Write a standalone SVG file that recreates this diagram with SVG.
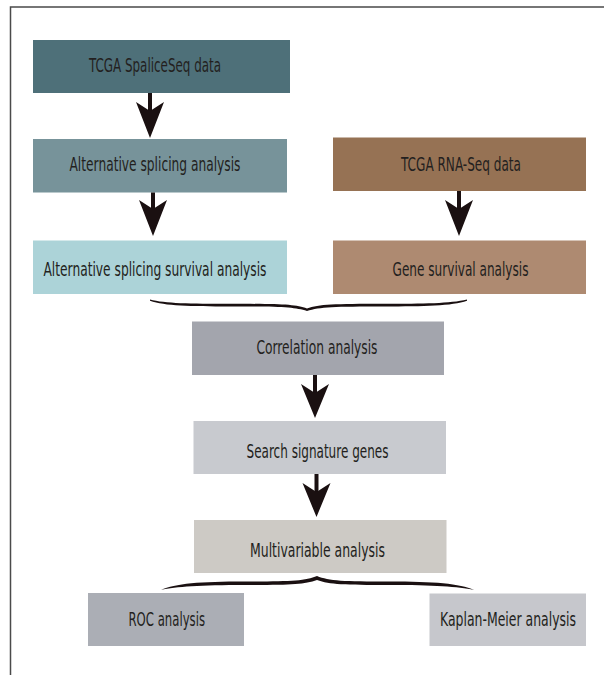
<svg xmlns="http://www.w3.org/2000/svg" width="604" height="675" viewBox="0 0 604 675">
<style>
  .lbl { font-family: "DejaVu Sans Condensed", "DejaVu Sans", "Liberation Sans", sans-serif; font-size: 19px; fill: #231f20; }
  .arrow { fill: #1a1011; }
  .shaft { stroke: #1a1011; stroke-width: 4; }
  .frame { stroke: #4a4a4a; stroke-width: 1.5; fill: none; }
</style>
<rect x="0" y="0" width="604" height="675" fill="#ffffff"/>
<path class="frame" d="M10.5,675 L10.5,7 L604,7"/>

<g id="n-tcga-splice">
  <rect x="33" y="40" width="257" height="53" fill="#4e7079"/>
  <text class="lbl" x="89" y="72" textLength="132" lengthAdjust="spacingAndGlyphs">TCGA SpaliceSeq data</text>
</g>
<g id="n-as-analysis">
  <rect x="33" y="139" width="254" height="53.5" fill="#77939a"/>
  <text class="lbl" x="69.5" y="170.5" textLength="171" lengthAdjust="spacingAndGlyphs">Alternative splicing analysis</text>
</g>
<g id="n-as-survival">
  <rect x="33" y="240.5" width="254" height="53.5" fill="#acd3d8"/>
  <text class="lbl" x="43.5" y="275.5" textLength="223" lengthAdjust="spacingAndGlyphs">Alternative splicing survival analysis</text>
</g>
<g id="n-tcga-rna">
  <rect x="333" y="137.5" width="253" height="53.5" fill="#967254"/>
  <text class="lbl" x="401" y="170.5" textLength="120" lengthAdjust="spacingAndGlyphs">TCGA RNA-Seq data</text>
</g>
<g id="n-gene-survival">
  <rect x="333" y="240.5" width="253" height="53.5" fill="#ae8a71"/>
  <text class="lbl" x="392.5" y="275.5" textLength="136" lengthAdjust="spacingAndGlyphs">Gene survival analysis</text>
</g>
<g id="n-correlation">
  <rect x="192" y="321.5" width="252" height="53.5" fill="#a3a5ad"/>
  <text class="lbl" x="256.5" y="354" textLength="121" lengthAdjust="spacingAndGlyphs">Correlation analysis</text>
</g>
<g id="n-signature">
  <rect x="193.5" y="421" width="252.5" height="53" fill="#c8cacf"/>
  <text class="lbl" x="246.5" y="458" textLength="142" lengthAdjust="spacingAndGlyphs">Search signature genes</text>
</g>
<g id="n-multivariable">
  <rect x="194" y="520" width="252.5" height="53" fill="#cdcac5"/>
  <text class="lbl" x="250" y="557" textLength="135" lengthAdjust="spacingAndGlyphs">Multivariable analysis</text>
</g>
<g id="n-roc">
  <rect x="88" y="593" width="156" height="53" fill="#abaeb5"/>
  <text class="lbl" x="128.5" y="625.5" textLength="76.5" lengthAdjust="spacingAndGlyphs">ROC analysis</text>
</g>
<g id="n-km">
  <rect x="429.5" y="593.5" width="156.5" height="52.5" fill="#c6c7cc"/>
  <text class="lbl" transform="translate(440,625.5) scale(0.7,1)" x="0" y="0" textLength="194.3" lengthAdjust="spacingAndGlyphs">Kaplan-Meier analysis</text>
</g>

<g id="connectors">
  <line class="shaft" x1="150" y1="93" x2="150" y2="112"/>
  <path class="arrow" d="M136,102 L150,111 L164,102 L150,138 Z"/>
  <line class="shaft" x1="153" y1="192.5" x2="153" y2="210"/>
  <path class="arrow" d="M139,200 L153,209 L167,200 L153,236 Z"/>
  <line class="shaft" x1="459" y1="191" x2="459" y2="210"/>
  <path class="arrow" d="M445,200 L459,209 L473,200 L459,236 Z"/>
  <line class="shaft" x1="315" y1="375" x2="315" y2="394"/>
  <path class="arrow" d="M301,384 L315,393 L329,384 L315,418 Z"/>
  <line class="shaft" x1="316.5" y1="474" x2="316.5" y2="493"/>
  <path class="arrow" d="M302.5,483 L316.5,492 L330.5,483 L316.5,517 Z"/>
  <path class="arrow" d="M150,299.5 C165,303.5 190,303.8 230,303.8 C280,303.8 295,304.3 307,308.5 C319,304.3 334,303.8 384,303.8 C424,303.8 450,303.5 467,299.5 L467,300.8 C452,306 424,306.5 384,306.5 C334,306.5 320,307 307,311 C294,307 280,306.5 230,306.5 C190,306.5 165,306 150,300.8 Z"/>
  <path class="arrow" d="M161,590 C175,583.5 200,581.5 245,581.5 C290,581.5 305,581 317,576 C329,581 344,581.5 389,581.5 C434,581.5 460,583.5 474,590 C458,586.5 434,585 389,585 C344,585 330,584.5 317,580 C304,584.5 290,585 245,585 C200,585 176,586.5 161,590 Z"/>
</g>
</svg>
